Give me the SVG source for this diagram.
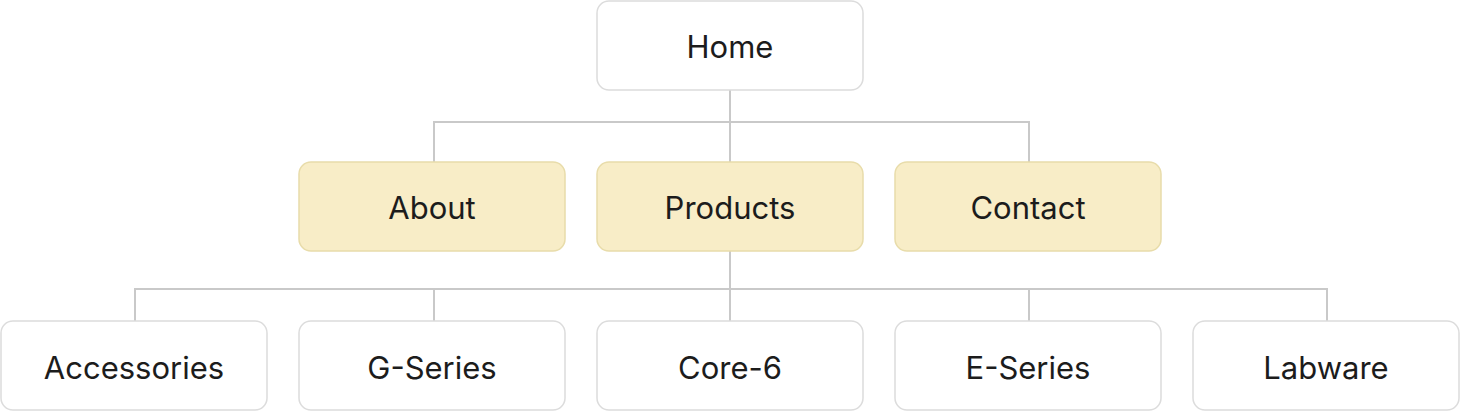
<svg xmlns="http://www.w3.org/2000/svg" width="1460" height="413" viewBox="0 0 1460 413">
<style>
.n rect{fill:#fff;stroke:#dcdcdc;stroke-width:1.5}
.y rect{fill:#f8edc7;stroke:#e8dcaa;stroke-width:1.5}
text{font-family:Inter,"Liberation Sans",sans-serif;font-size:31px;fill:#1c1c1c;text-anchor:middle;dominant-baseline:central}
#edges path{fill:none;stroke:#c9c9c9;stroke-width:2}
</style>
<rect width="1460" height="413" fill="#fff"/>
<g id="edges">
<path d="M730 90V122M434 162V122H1029V162M730 122V162"/>
<path d="M730 251V321M135 321V289H1327V321M434 289V321M1029 289V321"/>
</g>
<g id="home" class="n"><rect x="597" y="1" width="266" height="89" rx="12"/><text x="730" y="46">Home</text></g>
<g id="about" class="y"><rect x="299" y="162" width="266" height="89" rx="12"/><text x="432" y="207">About</text></g>
<g id="products" class="y"><rect x="597" y="162" width="266" height="89" rx="12"/><text x="730" y="207">Products</text></g>
<g id="contact" class="y"><rect x="895" y="162" width="266" height="89" rx="12"/><text x="1028" y="207">Contact</text></g>
<g id="accessories" class="n"><rect x="1" y="321" width="266" height="89" rx="12"/><text x="134" y="367">Accessories</text></g>
<g id="gseries" class="n"><rect x="299" y="321" width="266" height="89" rx="12"/><text x="432" y="367">G-Series</text></g>
<g id="core6" class="n"><rect x="597" y="321" width="266" height="89" rx="12"/><text x="730" y="367">Core-6</text></g>
<g id="eseries" class="n"><rect x="895" y="321" width="266" height="89" rx="12"/><text x="1028" y="367">E-Series</text></g>
<g id="labware" class="n"><rect x="1193" y="321" width="266" height="89" rx="12"/><text x="1326" y="367">Labware</text></g>
</svg>
